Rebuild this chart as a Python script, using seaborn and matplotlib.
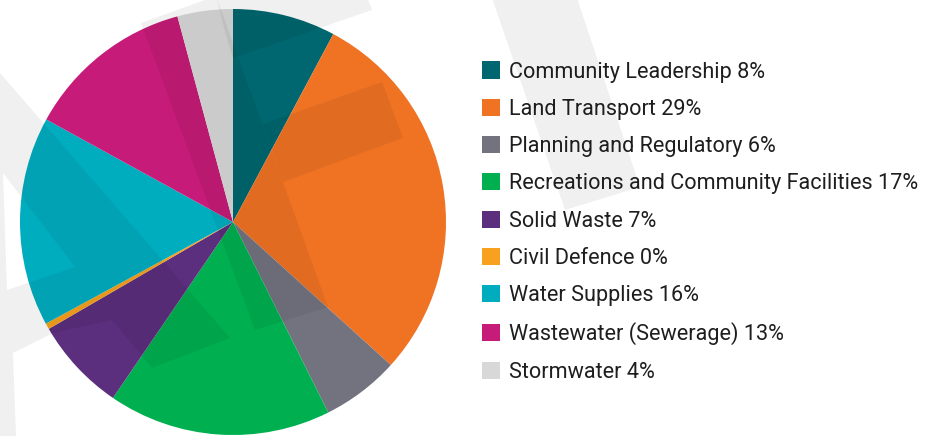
import matplotlib
matplotlib.use("Agg")
import matplotlib.pyplot as plt
from matplotlib.path import Path
from matplotlib.patches import PathPatch
import seaborn as sns

# data (slice shares, legend labels and shown percents)
categories = ["Community Leadership", "Land Transport", "Planning and Regulatory",
              "Recreations and Community Facilities", "Solid Waste", "Civil Defence",
              "Water Supplies", "Wastewater (Sewerage)", "Stormwater"]
shares = [7.8, 28.9, 5.9, 16.9, 7.1, 0.45, 15.9, 12.8, 4.2]
shown_pct = [8, 29, 6, 17, 7, 0, 16, 13, 4]
colors = ["#00666F", "#F07324", "#737380", "#00AF4F", "#5C2E7E",
          "#F7A11F", "#00ADBF", "#C61B78", "#D8D8D8"]

sns.set_theme(style="white")
plt.rcParams["font.family"] = ["Roboto", "DejaVu Sans"]
palette = sns.color_palette(colors)

W, H = 940, 436
fig = plt.figure(figsize=(W / 100, H / 100), dpi=100)

# pie: centre (233, 222) px, radius 213 px
cx, cy, r = 233, 222, 213
ax = fig.add_axes([(cx - r) / W, (H - cy - r) / H, 2 * r / W, 2 * r / H])
wedges, _ = ax.pie(shares, colors=palette, startangle=90, counterclock=False,
                   radius=1, wedgeprops=dict(linewidth=0))
ax.set_xlim(-1, 1)
ax.set_ylim(-1, 1)
ax.set_aspect("equal")
ax.axis("off")


# faint watermark logo (pixel coords, y down)
def px(pts):
    return [(x / W, 1 - y / H) for x, y in pts]


def shape(outer, holes=()):
    verts, codes = [], []
    for ring in [outer] + [h[::-1] for h in holes]:
        p = px(ring)
        verts += p + [p[0]]
        codes += [Path.MOVETO] + [Path.LINETO] * (len(p) - 1) + [Path.CLOSEPOLY]
    return Path(verts, codes)


marks = [
    # left letter with inner hole
    shape([(0, 73), (230, 338), (152, 368), (112, 320), (53, 333), (13, 353),
           (16, 436), (0, 436)],
          [[(3, 173), (75, 267), (7, 290)]]),
    # main stroke
    shape([(141, 23), (216, -4), (328, 307), (255, 330)]),
    # top bar
    shape([(216, -4), (349, -53), (372, 10), (233, 58), (226, 35)]),
    # middle bar
    shape([(263, 124), (382, 82), (403, 138), (283, 182)]),
    # band behind legend
    shape([(492, -2), (577, -2), (640, 187), (565, 210)]),
]
for p in marks:
    fig.add_artist(PathPatch(p, transform=fig.transFigure, facecolor="black",
                             edgecolor="none", alpha=0.06, zorder=3))

labels = [f"{c} {p}%" for c, p in zip(categories, shown_pct)]
fs = 15.6
fs_px = fs * 100 / 72
leg = fig.legend(wedges, labels, loc="upper left",
                 bbox_to_anchor=(482 / W, 1 - 61.5 / H),
                 frameon=False, fontsize=fs, borderpad=0, borderaxespad=0,
                 handlelength=18 / fs_px, handleheight=18 / fs_px,
                 handletextpad=9 / fs_px, labelspacing=0.75)
for t in leg.get_texts():
    t.set_color("#1E1E1E")
leg.set_zorder(5)

fig.savefig("out.png", dpi=100, facecolor="white")
